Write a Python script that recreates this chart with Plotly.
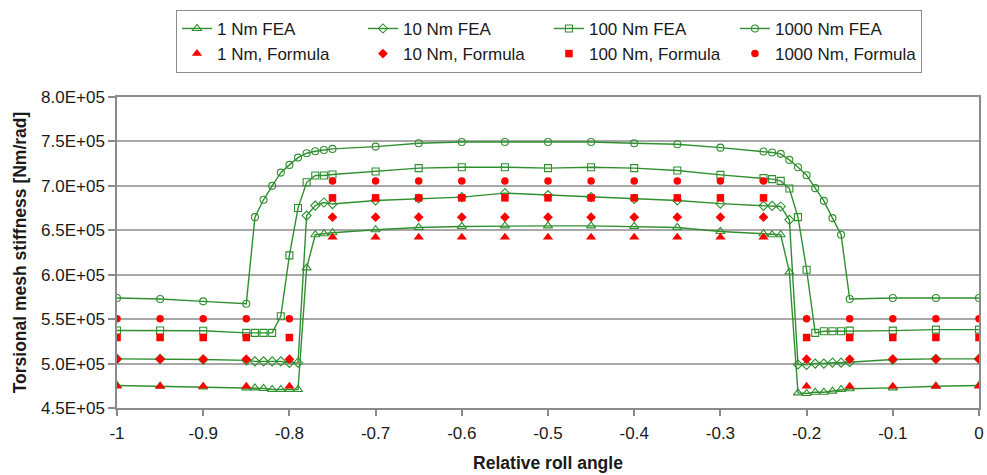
import plotly.graph_objects as go

# ---------------- data ----------------
fea_x = [-1.0, -0.95, -0.9, -0.85,
         -0.84, -0.83, -0.82, -0.81, -0.80, -0.79, -0.78, -0.77, -0.76, -0.75,
         -0.70, -0.65, -0.60, -0.55, -0.50, -0.45, -0.40, -0.35, -0.30,
         -0.25, -0.24, -0.23, -0.22, -0.21, -0.20, -0.19, -0.18, -0.17, -0.16,
         -0.15, -0.10, -0.05, 0.0]

fea_1 = [4.753, 4.745, 4.738, 4.727,
         4.727, 4.720, 4.708, 4.708, 4.708, 4.708, 6.077, 6.450, 6.461, 6.472,
         6.506, 6.532, 6.543, 6.550, 6.550, 6.550, 6.543, 6.532, 6.487,
         6.461, 6.450, 6.450, 6.030, 4.670, 4.663, 4.678, 4.678, 4.690, 4.708,
         4.716, 4.727, 4.745, 4.753]

fea_10 = [5.053, 5.053, 5.045, 5.036,
          5.025, 5.025, 5.025, 5.025, 5.008, 5.010, 6.665, 6.778, 6.813, 6.795,
          6.836, 6.858, 6.873, 6.918, 6.896, 6.873, 6.854, 6.836, 6.800,
          6.775, 6.775, 6.768, 6.618, 4.990, 4.985, 5.000, 5.000, 5.010, 5.010,
          5.016, 5.045, 5.053, 5.053]

fea_100 = [5.373, 5.373, 5.370, 5.345,
           5.345, 5.345, 5.345, 5.532, 6.218, 6.750, 7.040, 7.117, 7.117, 7.128,
           7.162, 7.200, 7.210, 7.210, 7.200, 7.210, 7.200, 7.173, 7.124,
           7.087, 7.076, 7.056, 6.970, 6.648, 6.056, 5.345, 5.364, 5.364, 5.364,
           5.371, 5.371, 5.382, 5.382]

fea_1000 = [5.738, 5.727, 5.700, 5.674,
            6.648, 6.843, 7.000, 7.149, 7.236, 7.318, 7.367, 7.390, 7.404, 7.416,
            7.442, 7.480, 7.494, 7.494, 7.494, 7.494, 7.480, 7.468, 7.430,
            7.387, 7.375, 7.360, 7.292, 7.210, 7.120, 6.974, 6.831, 6.637, 6.450,
            5.727, 5.738, 5.738, 5.738]

formula_x = [-1.0, -0.95, -0.9, -0.85, -0.8, -0.75, -0.7, -0.65, -0.6, -0.55, -0.5,
             -0.45, -0.4, -0.35, -0.3, -0.25, -0.2, -0.15, -0.1, -0.05, 0.0]

formula_1 = [4.745, 4.745, 4.745, 4.745, 4.745, 6.423, 6.423, 6.423, 6.423, 6.423, 6.423,
             6.423, 6.423, 6.423, 6.423, 6.423, 4.745, 4.745, 4.745, 4.745, 4.745]
formula_10 = [5.050, 5.050, 5.050, 5.050, 5.050, 6.648, 6.648, 6.648, 6.648, 6.648, 6.648,
              6.648, 6.648, 6.648, 6.648, 6.648, 5.050, 5.050, 5.050, 5.050, 5.050]
formula_100 = [5.293, 5.293, 5.293, 5.293, 5.293, 6.865, 6.865, 6.865, 6.865, 6.865, 6.865,
               6.865, 6.865, 6.865, 6.865, 6.865, 5.293, 5.293, 5.293, 5.293, 5.293]
formula_1000 = [5.504, 5.504, 5.504, 5.504, 5.504, 7.056, 7.056, 7.056, 7.056, 7.056, 7.056,
                7.056, 7.056, 7.056, 7.056, 7.056, 5.504, 5.504, 5.504, 5.504, 5.504]

scale = 1e5  # values above are in units of 1E+05 Nm/rad

fea_names = ["1 Nm FEA", "10 Nm FEA", "100 Nm FEA", "1000 Nm FEA"]
formula_names = ["1 Nm, Formula", "10 Nm, Formula", "100 Nm, Formula", "1000 Nm, Formula"]

x_tick_vals = [-1, -0.9, -0.8, -0.7, -0.6, -0.5, -0.4, -0.3, -0.2, -0.1, 0]
x_tick_text = ["-1", "-0.9", "-0.8", "-0.7", "-0.6", "-0.5", "-0.4", "-0.3", "-0.2", "-0.1", "0"]
y_tick_vals = [450000, 500000, 550000, 600000, 650000, 700000, 750000, 800000]
y_tick_text = ["4.5E+05", "5.0E+05", "5.5E+05", "6.0E+05", "6.5E+05", "7.0E+05", "7.5E+05", "8.0E+05"]

# ---------------- styling ----------------
GREEN = "#2f8f2f"
RED = "#ff0000"
FONT = "Liberation Sans, Arial, sans-serif"

fea_series = [fea_1, fea_10, fea_100, fea_1000]
fea_symbols = ["triangle-up-open", "diamond-open", "square-open", "circle-open"]
fea_sizes = [8, 7, 7, 7]
formula_series = [formula_1, formula_10, formula_100, formula_1000]
formula_symbols = ["triangle-up", "diamond", "square", "circle"]
formula_sizes = [9, 7.5, 7.5, 7.5]

fig = go.Figure()
for name, ys, sym, sz in zip(fea_names, fea_series, fea_symbols, fea_sizes):
    fig.add_trace(go.Scatter(
        x=fea_x, y=[v * scale for v in ys], name=name, mode="lines+markers",
        line=dict(color=GREEN, width=1.4),
        marker=dict(symbol=sym, size=sz, color=GREEN, line=dict(color=GREEN, width=1.1)),
    ))
for name, ys, sym, sz in zip(formula_names, formula_series, formula_symbols, formula_sizes):
    fig.add_trace(go.Scatter(
        x=formula_x, y=[v * scale for v in ys], name=name, mode="markers",
        marker=dict(symbol=sym, size=sz, color=RED, line=dict(width=0)),
    ))

fig.update_layout(
    width=987, height=475,
    margin=dict(l=117, r=8, t=97, b=67),
    paper_bgcolor="white", plot_bgcolor="white",
    font=dict(family=FONT, size=17, color="#1a1a1a"),
    showlegend=True,
    legend=dict(
        orientation="h", x=0.0684, xanchor="left", y=1.28, yanchor="top",
        bordercolor="#8c8c8c", borderwidth=1, bgcolor="white",
        entrywidth=141, entrywidthmode="pixels",
        font=dict(family=FONT, size=17, color="#1a1a1a"),
        traceorder="normal",
    ),
    xaxis=dict(
        range=[-1, 0], tickvals=x_tick_vals, ticktext=x_tick_text,
        showgrid=False, zeroline=False, automargin=False,
        showline=True, linecolor="#8a8a8a", linewidth=1.5, mirror=True,
        ticks="outside", ticklen=6, tickcolor="#8a8a8a", tickwidth=1.5,
        ticklabelstandoff=3,
        title=dict(text="<b>Relative roll angle</b>", font=dict(size=17.5), standoff=15),
    ),
    yaxis=dict(
        range=[450000, 800000], tickvals=y_tick_vals, ticktext=y_tick_text,
        showgrid=True, gridcolor="#a8a8a8", gridwidth=1.5, zeroline=False, automargin=False,
        showline=True, linecolor="#8a8a8a", linewidth=1.5, mirror=True,
        ticks="outside", ticklen=7, tickcolor="#8a8a8a", tickwidth=1.5,
        title=dict(text="<b>Torsional mesh stiffness [Nm/rad]</b>", font=dict(size=17.5), standoff=10),
    ),
)

fig.write_html("out.html")
